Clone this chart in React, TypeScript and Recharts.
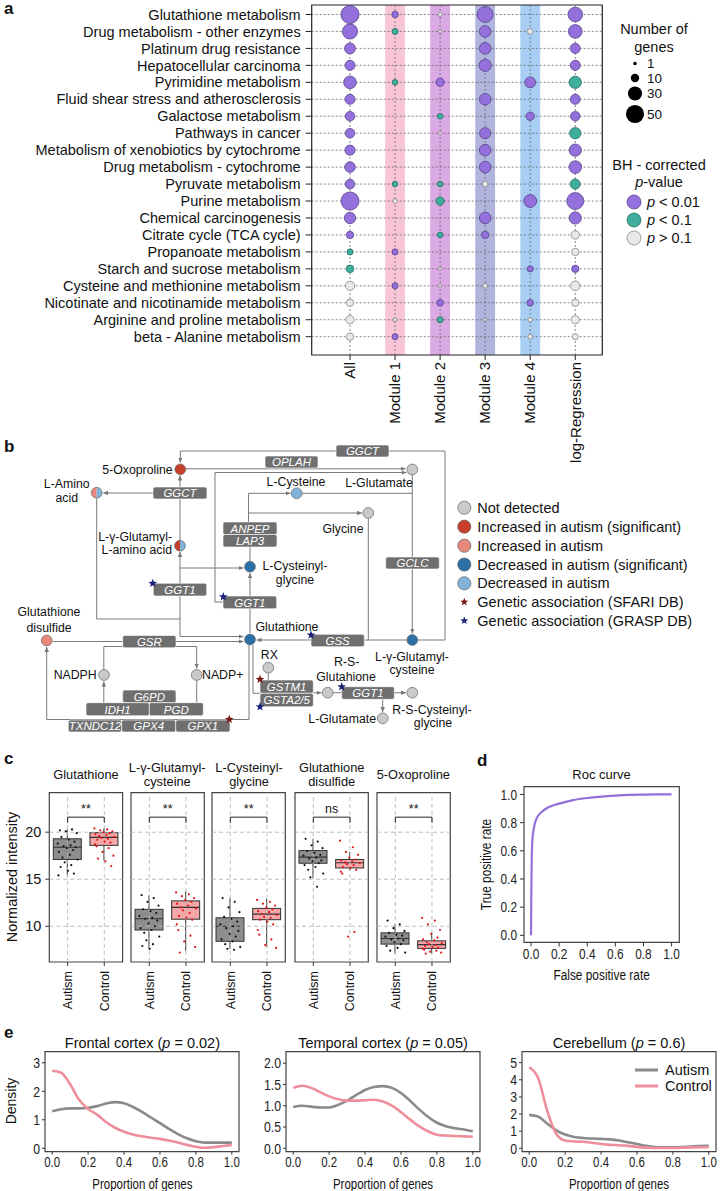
import React from 'react';
import {
  ScatterChart, Scatter, XAxis, YAxis, ZAxis, ReferenceArea, ReferenceLine,
  ComposedChart, Bar, LineChart, Line,
} from 'recharts';

const FONT = '"Liberation Sans", Arial, Helvetica, sans-serif';
const NARROW_SCALE = 0.82;

// ---------------- Panel a data ----------------
const PATHWAYS = [
  'Glutathione metabolism', 'Drug metabolism - other enzymes', 'Platinum drug resistance',
  'Hepatocellular carcinoma', 'Pyrimidine metabolism', 'Fluid shear stress and atherosclerosis',
  'Galactose metabolism', 'Pathways in cancer', 'Metabolism of xenobiotics by cytochrome',
  'Drug metabolism - cytochrome', 'Pyruvate metabolism', 'Purine metabolism',
  'Chemical carcinogenesis', 'Citrate cycle (TCA cycle)', 'Propanoate metabolism',
  'Starch and sucrose metabolism', 'Cysteine and methionine metabolism',
  'Nicotinate and nicotinamide metabolism', 'Arginine and proline metabolism', 'beta - Alanine metabolism',
];
const GROUPS = ['All', 'Module 1', 'Module 2', 'Module 3', 'Module 4', 'log-Regression'];
// number of genes (0 = not shown) and significance class (1: p<0.01, 2: p<0.1, 3: p>0.1)
const GENES_ALL = [60, 42, 21, 18, 29, 18, 16, 16, 18, 20, 16, 60, 23, 9, 6, 10, 15, 9, 12, 9];
const SIG_ALL = [1, 1, 1, 1, 1, 1, 1, 1, 1, 1, 1, 1, 1, 1, 2, 2, 3, 3, 3, 3];
const GENES_M1 = [7, 6, 0, 0, 5, 0, 0, 0, 0, 0, 5, 3, 0, 0, 6, 0, 6, 0, 2, 6];
const SIG_M1 = [1, 2, 0, 0, 2, 0, 0, 0, 0, 0, 2, 3, 0, 0, 1, 0, 1, 0, 3, 1];
const GENES_M2 = [2, 1, 0, 0, 12, 0, 5, 1, 0, 0, 5, 12, 0, 5, 0, 1, 1, 7, 6, 0];
const SIG_M2 = [3, 3, 0, 0, 1, 0, 2, 3, 0, 0, 2, 2, 0, 2, 0, 3, 3, 1, 2, 0];
const GENES_M3 = [46, 24, 24, 27, 0, 24, 0, 22, 24, 24, 5, 0, 24, 9, 0, 0, 3, 0, 1, 0];
const SIG_M3 = [1, 1, 1, 1, 0, 1, 0, 1, 1, 1, 3, 0, 1, 1, 0, 0, 3, 0, 3, 0];
const GENES_M4 = [0, 5, 0, 0, 21, 0, 12, 0, 0, 0, 0, 30, 0, 0, 0, 6, 0, 7, 3, 3];
const SIG_M4 = [0, 3, 0, 0, 1, 0, 1, 0, 0, 0, 0, 1, 0, 0, 0, 1, 0, 1, 3, 3];
const GENES_LR = [39, 34, 18, 18, 27, 18, 16, 23, 27, 29, 18, 53, 27, 12, 9, 9, 16, 9, 11, 6];
const SIG_LR = [1, 1, 1, 1, 2, 1, 1, 2, 1, 1, 2, 1, 1, 3, 3, 1, 3, 3, 3, 3];
const SIZE_LEGEND = [1, 10, 30, 50];
const SIG_LEGEND = ['< 0.01', '< 0.1', '> 0.1'];

const GENE_COLS = [GENES_ALL, GENES_M1, GENES_M2, GENES_M3, GENES_M4, GENES_LR];
const SIG_COLS = [SIG_ALL, SIG_M1, SIG_M2, SIG_M3, SIG_M4, SIG_LR];
const BAND_COLORS = ['', '#f8c5d6', '#dba9e4', '#b1b4dc', '#a8cef3', ''];
const SIG_FILL: any = { 1: '#9370db', 2: '#3fae9c', 3: '#e8e8e8' };
const SIG_STROKE: any = { 1: '#4a3a80', 2: '#1f6258', 3: '#7a7a7a' };
const Z_DOMAIN = [-1, 50];
const Z_RANGE = [0, 258];
const A_XDOM = [-0.85, 5.6];
const A_YDOM = [-0.56, 20.08];

function dotsFor(sig: number) {
  const out: any[] = [];
  GENE_COLS.forEach((col, c) => col.forEach((n, r) => {
    if (n > 0 && SIG_COLS[c][r] === sig) out.push({ x: c, y: r, n });
  }));
  return out;
}
const zRadius = (n: number) =>
  Math.sqrt((Z_RANGE[1] * (n - Z_DOMAIN[0])) / (Z_DOMAIN[1] - Z_DOMAIN[0]) / Math.PI);

const makeDot = (fill: string, stroke: string) => (p: any) => {
  const s = typeof p.size === 'number' ? p.size : 30;
  const r = Math.sqrt(Math.max(s, 0) / Math.PI);
  return <circle cx={p.cx} cy={p.cy} r={r} fill={fill} stroke={stroke} strokeWidth={0.7} />;
};

const RotTick = (props: any) => {
  const { x, y, payload, labels, fs } = props;
  return (
    <text x={x} y={y} transform={`rotate(-90 ${x} ${y})`} textAnchor="end" dy="0.35em"
      fontSize={fs} fontFamily={FONT} fill="#111">{labels[payload.value]}</text>
  );
};

// condensed-looking tick (scaled horizontally)
const NarrowTick = (p: any) => {
  const { x, y, payload, fs, fmt, axis } = p;
  const isY = axis === 'y';
  return (
    <g transform={`translate(${x},${y})`}>
      <text transform={`scale(${NARROW_SCALE},1)`} textAnchor={isY ? 'end' : 'middle'} dy={isY ? '0.35em' : '0.72em'}
        fontSize={fs} fontFamily={FONT} fill="#222">{fmt(payload.value)}</text>
    </g>
  );
};

// ---------------- Panel c data ----------------
const C_TITLES = [['Glutathione'], ['L-γ-Glutamyl-', 'cysteine'], ['L-Cysteinyl-', 'glycine'], ['Glutathione', 'disulfide'], ['5-Oxoproline']];
const CLASSES = ['Autism', 'Control'];
// [lower whisker, Q1, median, Q3, upper whisker]
const BOX_AUTISM = [
  [15.4, 17.1, 18.4, 19.3, 20.3],
  [7.6, 9.6, 10.8, 11.8, 13.3],
  [7.6, 8.4, 10.0, 10.9, 13.0],
  [15.1, 16.7, 17.35, 18.05, 19.3],
  [7.1, 8.1, 8.7, 9.3, 10.2],
];
const BOX_CONTROL = [
  [17.0, 18.6, 19.45, 19.95, 20.4],
  [7.4, 10.75, 12.0, 12.7, 13.7],
  [7.8, 10.7, 11.3, 11.9, 12.9],
  [15.9, 16.2, 16.75, 17.1, 17.9],
  [7.1, 7.65, 8.05, 8.45, 9.3],
];
const PTS_AUTISM = [
  [20.2, 20.3, 20.1, 19.9, 19.5, 19.2, 19.0, 18.8, 18.6, 18.5, 18.4, 18.3, 18.1, 17.9, 17.6, 17.3, 17.1, 16.8, 16.5, 16.3, 15.9, 15.6, 15.4],
  [13.3, 13.0, 12.6, 12.2, 11.8, 11.6, 11.4, 11.1, 10.9, 10.8, 10.6, 10.3, 10.0, 9.8, 9.6, 9.3, 8.9, 8.5, 8.1, 7.9, 7.6],
  [13.0, 12.6, 12.0, 11.5, 11.0, 10.8, 10.5, 10.2, 10.0, 9.8, 9.5, 9.2, 8.9, 8.6, 8.4, 8.1, 7.8, 7.6, 7.5],
  [19.3, 19.0, 18.6, 18.3, 18.0, 17.8, 17.6, 17.5, 17.3, 17.2, 17.0, 16.9, 16.7, 16.5, 16.3, 16.0, 15.6, 15.2, 14.2],
  [10.6, 10.2, 9.8, 9.5, 9.3, 9.1, 9.0, 8.9, 8.7, 8.6, 8.5, 8.3, 8.1, 7.9, 7.7, 7.4, 7.2],
];
const PTS_CONTROL = [
  [20.4, 20.3, 20.2, 20.1, 20.0, 19.9, 19.8, 19.7, 19.6, 19.5, 19.4, 19.3, 19.2, 19.0, 18.9, 18.7, 18.5, 18.3, 17.9, 17.5, 17.2, 16.9, 16.4],
  [13.6, 13.4, 13.2, 13.0, 12.8, 12.6, 12.4, 12.2, 12.0, 11.9, 11.7, 11.4, 11.1, 10.9, 10.7, 10.2, 9.6, 9.0, 8.4, 7.8, 7.2],
  [12.8, 12.6, 12.4, 12.2, 12.0, 11.8, 11.6, 11.5, 11.3, 11.2, 11.0, 10.9, 10.7, 10.5, 10.2, 9.6, 9.1, 8.6, 8.0, 7.7],
  [19.1, 18.4, 17.9, 17.6, 17.3, 17.1, 17.0, 16.9, 16.8, 16.7, 16.6, 16.5, 16.3, 16.2, 16.0, 15.8, 15.6, 9.4, 8.9],
  [10.9, 10.6, 10.2, 9.6, 9.2, 8.8, 8.6, 8.5, 8.3, 8.2, 8.1, 8.0, 7.9, 7.8, 7.7, 7.6, 7.5, 7.4, 7.3, 7.2, 7.1],
];
const JITTER = [-0.21, 0.12, -0.05, 0.25, -0.17, 0.03, 0.19, -0.27, 0.08, -0.11, 0.22, -0.02, 0.15, -0.24, 0.06, -0.14, 0.27, -0.08, 0.1, -0.19, 0.01, 0.17, -0.25];
const SIG_MARKS = ['**', '**', '**', 'ns', '**'];
const C_YTICKS = [10, 15, 20];
const C_YDOM = [6.2, 24.2];
const C_LEFTS = [49.3, 130.6, 212.4, 295, 376.7];
const C_W = 73.3;

// ---------------- Panel d data ----------------
const FPR = [0, 0.002, 0.005, 0.01, 0.02, 0.04, 0.07, 0.1, 0.15, 0.2, 0.3, 0.4, 0.5, 0.6, 0.7, 0.8, 0.9, 1];
const TPR = [0, 0.3, 0.55, 0.68, 0.76, 0.83, 0.87, 0.895, 0.92, 0.935, 0.96, 0.975, 0.985, 0.992, 0.997, 0.999, 1, 1];
const UNIT_TICKS = [0, 0.2, 0.4, 0.6, 0.8, 1.0];

// ---------------- Panel e data ----------------
const DENS_X = [0, 0.05, 0.1, 0.15, 0.2, 0.25, 0.3, 0.35, 0.4, 0.45, 0.5, 0.55, 0.6, 0.65, 0.7, 0.75, 0.8, 0.85, 0.9, 0.95, 1.0];
const FRONTAL_AUTISM = [1.30, 1.37, 1.40, 1.40, 1.42, 1.48, 1.57, 1.62, 1.58, 1.45, 1.28, 1.08, 0.88, 0.68, 0.50, 0.35, 0.25, 0.20, 0.20, 0.20, 0.20];
const FRONTAL_CONTROL = [2.72, 2.65, 2.25, 1.70, 1.38, 1.18, 0.92, 0.72, 0.58, 0.48, 0.42, 0.37, 0.33, 0.27, 0.20, 0.12, 0.05, 0.02, 0.04, 0.08, 0.12];
const TEMPORAL_AUTISM = [0.97, 1.00, 0.98, 0.96, 0.96, 1.02, 1.12, 1.25, 1.37, 1.44, 1.46, 1.42, 1.30, 1.12, 0.92, 0.74, 0.60, 0.52, 0.47, 0.44, 0.40];
const TEMPORAL_CONTROL = [1.42, 1.47, 1.42, 1.32, 1.22, 1.15, 1.12, 1.12, 1.13, 1.14, 1.10, 1.00, 0.85, 0.68, 0.52, 0.40, 0.32, 0.30, 0.29, 0.28, 0.27];
const CEREB_AUTISM = [1.95, 1.85, 1.45, 1.05, 0.80, 0.66, 0.60, 0.57, 0.55, 0.52, 0.45, 0.35, 0.25, 0.14, 0.07, 0.05, 0.05, 0.07, 0.10, 0.13, 0.15];
const CEREB_CONTROL = [4.72, 4.10, 2.20, 0.85, 0.45, 0.40, 0.38, 0.32, 0.25, 0.20, 0.18, 0.14, 0.08, 0.04, 0.02, 0.02, 0.02, 0.03, 0.05, 0.06, 0.06];
const E_TITLES = ['Frontal cortex', 'Temporal cortex', 'Cerebellum'];
const E_PVALS = ['0.02', '0.05', '0.6'];
const E_AUTISM = [FRONTAL_AUTISM, TEMPORAL_AUTISM, CEREB_AUTISM];
const E_CONTROL = [FRONTAL_CONTROL, TEMPORAL_CONTROL, CEREB_CONTROL];
const E_YTICKS = [[0, 1, 2, 3], [0, 0.5, 1.0, 1.5, 2.0], [0, 1, 2, 3, 4, 5]];
const E_YDOMS = [[-0.12, 3.39], [-0.08, 2.27], [-0.2, 5.64]];
const E_TICKFMT = [(v: number) => String(v), (v: number) => v.toFixed(1), (v: number) => String(v)];
const E_LEFTS = [45.4, 286, 522];
const E_YW = [40, 40, 40];
const E_W = 194;
const AUTISM_LINE = '#8a8a8a';
const CONTROL_LINE = '#ef8e9b';
const fmt1 = (v: number) => v.toFixed(1);

// ---------------- helpers ----------------
const Txt = ({ x, y, children, anchor = 'middle', fs = 12, weight = 'normal', fill = '#111', rot = false, italic = false }: any) => (
  <text x={x} y={y} dy="0.35em" textAnchor={anchor} fontSize={fs} fontFamily={FONT} fontWeight={weight}
    fontStyle={italic ? 'italic' : 'normal'} fill={fill}
    transform={rot ? `rotate(-90 ${x} ${y})` : undefined}>{children}</text>
);
const NTxt = ({ x, y, children, anchor = 'middle', fs = 13, rot = false }: any) => (
  <g transform={`translate(${x},${y})${rot ? ' rotate(-90)' : ''} scale(${NARROW_SCALE},1)`}>
    <text x={0} y={0} dy="0.35em" textAnchor={anchor} fontSize={fs} fontFamily={FONT} fill="#111">{children}</text>
  </g>
);

function starPath(cx: number, cy: number, R: number) {
  const r = R * 0.42;
  let d = '';
  for (let i = 0; i < 10; i++) {
    const a = -Math.PI / 2 + (i * Math.PI) / 5;
    const rr = i % 2 === 0 ? R : r;
    d += (i === 0 ? 'M' : 'L') + (cx + rr * Math.cos(a)).toFixed(2) + ',' + (cy + rr * Math.sin(a)).toFixed(2);
  }
  return d + 'Z';
}

// ---------------- Panel b diagram layout ----------------
const NODE_COL: any = { gray: '#c9c9c9', incSig: '#c7402d', incLight: '#e8877c', decSig: '#2c70aa', decLight: '#80b2da' };
const B_NODES = [
  { x: 180.3, y: 469.3, k: 'incSig' },
  { x: 412.3, y: 469.5, k: 'gray' },
  { x: 96.7, y: 492.7, k: 'incLight', k2: 'decLight' },
  { x: 296.7, y: 493.3, k: 'decLight' },
  { x: 368.3, y: 513, k: 'gray' },
  { x: 180, y: 545.7, k: 'incSig', k2: 'decLight' },
  { x: 250, y: 566.7, k: 'decSig' },
  { x: 46.7, y: 640.5, k: 'incLight' },
  { x: 250, y: 639.5, k: 'decSig' },
  { x: 412.3, y: 640, k: 'decSig' },
  { x: 104, y: 675, k: 'gray' },
  { x: 196.7, y: 675, k: 'gray' },
  { x: 268.3, y: 667.7, k: 'gray' },
  { x: 327.7, y: 692.7, k: 'gray' },
  { x: 412.3, y: 692.7, k: 'gray' },
  { x: 382.7, y: 718.3, k: 'gray' },
];
const B_BOXES = [
  { x: 336, y: 445, w: 53, h: 12, t: 'GGCT' },
  { x: 265, y: 456, w: 53, h: 12, t: 'OPLAH' },
  { x: 153, y: 487, w: 54, h: 12, t: 'GGCT' },
  { x: 223, y: 522, w: 54, h: 12.5, t: 'ANPEP' },
  { x: 223, y: 534.5, w: 54, h: 12.5, t: 'LAP3' },
  { x: 385.7, y: 557, w: 53.6, h: 12, t: 'GCLC' },
  { x: 153.3, y: 583.3, w: 53.4, h: 12.7, t: 'GGT1' },
  { x: 223, y: 596, w: 53.7, h: 12.7, t: 'GGT1' },
  { x: 122.7, y: 635.5, w: 53.3, h: 12.3, t: 'GSR' },
  { x: 311, y: 634.3, w: 53.3, h: 12.4, t: 'GSS' },
  { x: 122.7, y: 690, w: 53.3, h: 12.7, t: 'G6PD' },
  { x: 86, y: 702.7, w: 63.3, h: 13, t: 'IDH1' },
  { x: 149.3, y: 702.7, w: 54, h: 13, t: 'PGD' },
  { x: 68.3, y: 720, w: 53.4, h: 12, t: 'TXNDC12' },
  { x: 121.7, y: 720, w: 54, h: 12, t: 'GPX4' },
  { x: 175.7, y: 720, w: 54.3, h: 12, t: 'GPX1' },
  { x: 260, y: 680, w: 53.3, h: 13.3, t: 'GSTM1' },
  { x: 260, y: 693.3, w: 53.3, h: 13.4, t: 'GSTA2/5' },
  { x: 341.7, y: 686.7, w: 52.6, h: 12.6, t: 'GGT1' },
];
const B_LINES = [
  { p: [[412.3, 640], [445, 640], [445, 451], [180.3, 451], [180.3, 462.5]], a: true },
  { p: [[186, 468.8], [405.5, 468.8]], a: true },
  { p: [[223, 602], [215, 602], [215, 472.5], [406.5, 472.5]], a: true },
  { p: [[412.3, 475], [412.3, 633.5]], a: true },
  { p: [[302, 493.3], [412.3, 493.3]], a: false },
  { p: [[248.5, 522], [248.5, 493.3], [290.5, 493.3]], a: true },
  { p: [[248.5, 513], [362, 513]], a: true },
  { p: [[368.3, 518.5], [368.3, 640]], a: false },
  { p: [[406.5, 640], [256.5, 640]], a: true },
  { p: [[250, 547], [250, 561]], a: false },
  { p: [[250, 633], [250, 573]], a: true },
  { p: [[180, 568], [243.5, 568]], a: true },
  { p: [[180, 636.5], [180, 552]], a: true },
  { p: [[180, 540], [180, 475.5]], a: true },
  { p: [[180, 493], [103.2, 493]], a: true },
  { p: [[96.7, 498.5], [96.7, 619], [180, 619]], a: false },
  { p: [[180, 636.5], [243.5, 636.5]], a: true },
  { p: [[52.5, 641.5], [243.5, 641.5]], a: true },
  { p: [[122.7, 646.5], [103.8, 646.5], [103.8, 669.5]], a: false },
  { p: [[176, 646.5], [196.7, 646.5], [196.7, 668.5]], a: true },
  { p: [[103.8, 702.7], [103.8, 681.5]], a: true },
  { p: [[196.7, 680.5], [196.7, 702.7]], a: false },
  { p: [[249, 645], [249, 719.5], [46.7, 719.5], [46.7, 647]], a: true },
  { p: [[253, 645], [253, 693.3], [260, 693.3]], a: false },
  { p: [[268.3, 673], [268.3, 680]], a: false },
  { p: [[313.3, 692.7], [321.5, 692.7]], a: true },
  { p: [[333, 692.7], [406, 692.7]], a: true },
  { p: [[382.7, 699.3], [382.7, 712]], a: true },
];
const B_STARS = [
  { x: 152.7, y: 583.3, c: '#1b237a' },
  { x: 223.3, y: 596.7, c: '#1b237a' },
  { x: 311, y: 635, c: '#1b237a' },
  { x: 341.7, y: 686.7, c: '#1b237a' },
  { x: 260, y: 706.7, c: '#1b237a' },
  { x: 260, y: 679.3, c: '#7a1818' },
  { x: 229.3, y: 719.3, c: '#7a1818' },
];
const B_LABELS: any[] = [
  { t: '5-Oxoproline', x: 172.7, y: 469.3, a: 'end' },
  { t: 'L-Amino', x: 66.7, y: 483.3 }, { t: 'acid', x: 66.7, y: 497.3 },
  { t: 'L-Cysteine', x: 296, y: 481.7 },
  { t: 'L-Glutamate', x: 379, y: 482.7 },
  { t: 'Glycine', x: 343, y: 528.3 },
  { t: 'L-γ-Glutamyl-', x: 172, y: 536.7, a: 'end' }, { t: 'L-amino acid', x: 172, y: 550, a: 'end' },
  { t: 'L-Cysteinyl-', x: 295, y: 565.7 }, { t: 'glycine', x: 295, y: 580 },
  { t: 'Glutathione', x: 49, y: 612 }, { t: 'disulfide', x: 49, y: 627.3 },
  { t: 'Glutathione', x: 287, y: 626.5 },
  { t: 'L-γ-Glutamyl-', x: 412, y: 656.7 }, { t: 'cysteine', x: 412, y: 670 },
  { t: 'NADPH', x: 96.7, y: 675, a: 'end' },
  { t: 'NADP+', x: 202, y: 675, a: 'start' },
  { t: 'RX', x: 269.3, y: 655 },
  { t: 'R-S-', x: 346.7, y: 661.7 }, { t: 'Glutahione', x: 346, y: 676.7 },
  { t: 'L-Glutamate', x: 376, y: 718.3, a: 'end' },
  { t: 'R-S-Cysteinyl-', x: 432, y: 710 }, { t: 'glycine', x: 433, y: 722.5 },
];
const B_LEGEND = [
  { t: 'Not detected', k: 'gray' },
  { t: 'Increased in autism (significant)', k: 'incSig' },
  { t: 'Increased in autism', k: 'incLight' },
  { t: 'Decreased in autism (significant)', k: 'decSig' },
  { t: 'Decreased in autism', k: 'decLight' },
  { t: 'Genetic association (SFARI DB)', s: '#7a1818' },
  { t: 'Genetic association (GRASP DB)', s: '#1b237a' },
];

// ---------------- Panel a chart ----------------
function PanelA() {
  const rows = PATHWAYS.map((_, i) => i);
  const cols = GROUPS.map((_, i) => i);
  return (
    <div style={{ position: 'absolute', left: 0, top: 0 }}>
      <ScatterChart width={727} height={465} margin={{ top: 5, right: 124.7, bottom: 0, left: 0 }}>
        {cols.filter((c) => BAND_COLORS[c]).map((c) => (
          <ReferenceArea key={'b' + c} x1={c - 0.22} x2={c + 0.22} y1={A_YDOM[0]} y2={A_YDOM[1]}
            fill={BAND_COLORS[c]} fillOpacity={1} stroke="none" ifOverflow="hidden" />
        ))}
        {rows.map((r) => (
          <ReferenceLine key={'r' + r} y={r} stroke="#6b6b6b" strokeDasharray="2 2" strokeWidth={0.8} />
        ))}
        {cols.map((c) => (
          <ReferenceLine key={'c' + c} x={c} stroke="#6b6b6b" strokeDasharray="2 2" strokeWidth={0.8} />
        ))}
        <XAxis type="number" dataKey="x" domain={A_XDOM} ticks={cols} interval={0} allowDataOverflow
          height={110} tickSize={5} tickMargin={2} axisLine={false} tickLine={{ stroke: '#222' }}
          tick={(p: any) => <RotTick {...p} labels={GROUPS} fs={15} />} />
        <YAxis type="number" dataKey="y" domain={A_YDOM} reversed ticks={rows} interval={0} allowDataOverflow
          width={311.7} tickSize={6} tickMargin={5} axisLine={false} tickLine={{ stroke: '#222' }}
          tick={{ fontSize: 14.5, fill: '#111', fontFamily: FONT }} tickFormatter={(v: number) => PATHWAYS[v]} />
        <ZAxis type="number" dataKey="n" domain={Z_DOMAIN} range={Z_RANGE} />
        {[3, 2, 1].map((s) => (
          <Scatter key={'s' + s} data={dotsFor(s)} shape={makeDot(SIG_FILL[s], SIG_STROKE[s])} isAnimationActive={false} />
        ))}
        <ReferenceArea x1={A_XDOM[0]} x2={A_XDOM[1]} y1={A_YDOM[0]} y2={A_YDOM[1]} fill="none" stroke="#222" strokeWidth={1.2} ifOverflow="visible" />
      </ScatterChart>
    </div>
  );
}

// ---------------- Panel c charts ----------------
const BoxShape = (props: any) => {
  const { x, y, width, height, payload } = props;
  if (!payload) return null;
  const [lo, q1, med, q3, hi] = payload.stats;
  const top = Math.min(y, y + height);
  const h = Math.abs(height);
  const k = h / (hi - lo);
  const py = (v: number) => top + (hi - v) * k;
  const cx = x + width / 2;
  return (
    <g>
      <line x1={cx} x2={cx} y1={py(hi)} y2={py(lo)} stroke="#333" strokeWidth={1} />
      <rect x={x} y={py(q3)} width={width} height={py(q1) - py(q3)} fill={payload.fill} stroke="#333" strokeWidth={1} />
      <line x1={x} x2={x + width} y1={py(med)} y2={py(med)} stroke="#333" strokeWidth={1.2} />
    </g>
  );
};
const tinyDot = (fill: string) => (p: any) => <circle cx={p.cx} cy={p.cy} r={1.1} fill={fill} />;

function BoxPanel({ k }: { k: number }) {
  const showY = k === 0;
  const plotLeft = C_LEFTS[k];
  const yW = showY ? plotLeft : 0;
  const padL = showY ? 0 : 4;
  const divLeft = showY ? 0 : plotLeft - 4;
  const width = yW + padL + C_W + 4;
  const data = [
    { name: 'Autism', range: [BOX_AUTISM[k][0], BOX_AUTISM[k][4]], stats: BOX_AUTISM[k], fill: '#8e8e8e' },
    { name: 'Control', range: [BOX_CONTROL[k][0], BOX_CONTROL[k][4]], stats: BOX_CONTROL[k], fill: '#f6a6a6' },
  ];
  const ptsA = PTS_AUTISM[k].map((v, i) => ({ x: JITTER[i % JITTER.length], y: v }));
  const ptsC = PTS_CONTROL[k].map((v, i) => ({ x: 1 + JITTER[(i + 7) % JITTER.length], y: v }));
  const grid = { stroke: '#b5b5b5', strokeDasharray: '4 3', strokeWidth: 0.9 };
  return (
    <div style={{ position: 'absolute', left: divLeft, top: 780 }}>
      <ComposedChart width={width} height={232} data={data} margin={{ top: 12.7, right: 4, bottom: 0, left: padL }}>
        <XAxis xAxisId="cat" dataKey="name" type="category" orientation="top" height={0} hide />
        <XAxis xAxisId="num" type="number" dataKey="x" domain={[-0.5, 1.5]} ticks={[0, 1]} interval={0} allowDataOverflow
          height={50} tickSize={4} tickMargin={5} axisLine={false} tickLine={{ stroke: '#333' }}
          tick={(p: any) => <RotTick {...p} labels={CLASSES} fs={12.5} />} />
        <YAxis type="number" dataKey="y" domain={C_YDOM} ticks={C_YTICKS} interval={0} allowDataOverflow hide={!showY}
          width={yW} tickSize={4} tickMargin={4} axisLine={false} tickLine={{ stroke: '#333' }}
          tick={{ fontSize: 14.5, fill: '#111', fontFamily: FONT }} />
        {C_YTICKS.map((t) => <ReferenceLine key={'h' + t} xAxisId="num" y={t} {...grid} />)}
        {[0, 1].map((t) => <ReferenceLine key={'v' + t} xAxisId="num" x={t} {...grid} />)}
        <ReferenceLine xAxisId="num" segment={[{ x: 0, y: 21.0 }, { x: 0, y: 21.6 }]} stroke="#222" />
        <ReferenceLine xAxisId="num" segment={[{ x: 1, y: 21.0 }, { x: 1, y: 21.6 }]} stroke="#222" />
        <ReferenceLine xAxisId="num" segment={[{ x: 0, y: 21.6 }, { x: 1, y: 21.6 }]} stroke="#222"
          label={{ value: SIG_MARKS[k], position: 'top', fontSize: 12.5, fill: '#111', fontFamily: FONT, offset: 4 }} />
        <Bar xAxisId="cat" dataKey="range" barSize={28} shape={BoxShape} isAnimationActive={false} />
        <Scatter xAxisId="num" data={ptsA} dataKey="y" shape={tinyDot('#111')} isAnimationActive={false} />
        <Scatter xAxisId="num" data={ptsC} dataKey="y" shape={tinyDot('#e3121b')} isAnimationActive={false} />
        <ReferenceArea xAxisId="num" x1={-0.5} x2={1.5} y1={C_YDOM[0]} y2={C_YDOM[1]} fill="none" stroke="#444" strokeWidth={1.2} ifOverflow="visible" />
      </ComposedChart>
    </div>
  );
}

// ---------------- Panel d chart ----------------
function PanelD() {
  const data = FPR.map((f, i) => ({ fpr: f, tpr: TPR[i] }));
  const dom = [-0.05, 1.055];
  return (
    <div style={{ position: 'absolute', left: 440, top: 760 }}>
      <LineChart width={287} height={230} data={data} margin={{ top: 26.7, right: 47.7, bottom: 17.6, left: 40 }}>
        <XAxis type="number" dataKey="fpr" domain={dom} ticks={UNIT_TICKS} interval={0} allowDataOverflow height={30}
          tickSize={4} tickMargin={2} axisLine={false} tickLine={{ stroke: '#333' }}
          tick={(p: any) => <NarrowTick {...p} fs={14.5} fmt={fmt1} axis="x" />} />
        <YAxis type="number" domain={dom} ticks={UNIT_TICKS} interval={0} allowDataOverflow width={44}
          tickSize={4} tickMargin={3} axisLine={false} tickLine={{ stroke: '#333' }}
          tick={(p: any) => <NarrowTick {...p} fs={14.5} fmt={fmt1} axis="y" />} />
        <Line type="monotone" dataKey="tpr" stroke="#9370db" strokeWidth={2.2} dot={false} isAnimationActive={false} />
        <ReferenceArea x1={dom[0]} x2={dom[1]} y1={dom[0]} y2={dom[1]} fill="none" stroke="#444" strokeWidth={1.2} ifOverflow="visible" />
      </LineChart>
    </div>
  );
}

// ---------------- Panel e charts ----------------
function DensPanel({ k }: { k: number }) {
  const data = DENS_X.map((x, i) => ({ x, autism: E_AUTISM[k][i], control: E_CONTROL[k][i] }));
  const yW = E_YW[k];
  const xdom = [-0.04, 1.04];
  const ydom = E_YDOMS[k];
  return (
    <div style={{ position: 'absolute', left: E_LEFTS[k] - yW, top: 1040 }}>
      <LineChart width={yW + E_W + 5} height={136} data={data} margin={{ top: 11.7, right: 5, bottom: 0.3, left: 0 }}>
        <XAxis type="number" dataKey="x" domain={xdom} ticks={UNIT_TICKS} interval={0} allowDataOverflow height={24}
          tickSize={3} tickMargin={2} axisLine={false} tickLine={{ stroke: '#333' }}
          tick={(p: any) => <NarrowTick {...p} fs={14} fmt={fmt1} axis="x" />} />
        <YAxis type="number" domain={ydom} ticks={E_YTICKS[k]} interval={0} allowDataOverflow width={yW}
          tickSize={3} tickMargin={2} axisLine={false} tickLine={{ stroke: '#333' }}
          tick={(p: any) => <NarrowTick {...p} fs={15} fmt={E_TICKFMT[k]} axis="y" />} />
        <Line type="monotone" dataKey="autism" stroke={AUTISM_LINE} strokeWidth={2.6} dot={false} isAnimationActive={false} />
        <Line type="monotone" dataKey="control" stroke={CONTROL_LINE} strokeWidth={2.6} dot={false} isAnimationActive={false} />
        <ReferenceArea x1={xdom[0]} x2={xdom[1]} y1={ydom[0]} y2={ydom[1]} fill="none" stroke="#444" strokeWidth={1.2} ifOverflow="visible" />
      </LineChart>
    </div>
  );
}

// ---------------- Overlay (texts, legends, diagram) ----------------
function Overlay() {
  const BOXF = 11.5;
  const sizeYs = [63.5, 78, 93.5, 114];
  return (
    <svg width={727} height={1191} style={{ position: 'absolute', left: 0, top: 0, pointerEvents: 'none' }}>
      <defs>
        <marker id="arr" markerWidth="6" markerHeight="6" refX="5" refY="2.25" orient="auto" markerUnits="userSpaceOnUse">
          <path d="M0,0 L5,2.25 L0,4.5 z" fill="#777" />
        </marker>
      </defs>
      {/* panel labels */}
      <Txt x={4} y={8} anchor="start" fs={17} weight="bold">a</Txt>
      <Txt x={4} y={446} anchor="start" fs={17} weight="bold">b</Txt>
      <Txt x={4} y={758} anchor="start" fs={17} weight="bold">c</Txt>
      <Txt x={477} y={760} anchor="start" fs={17} weight="bold">d</Txt>
      <Txt x={4} y={1032} anchor="start" fs={17} weight="bold">e</Txt>

      {/* panel a legend */}
      <Txt x={654} y={29} fs={14.5}>Number of</Txt>
      <Txt x={654} y={47} fs={14.5}>genes</Txt>
      {SIZE_LEGEND.map((n, i) => (
        <g key={'sl' + n}>
          <circle cx={635} cy={sizeYs[i]} r={zRadius(n)} fill="#000" />
          <Txt x={647} y={sizeYs[i]} anchor="start" fs={13.5}>{n}</Txt>
        </g>
      ))}
      <Txt x={659} y={165} fs={14.5}>BH - corrected</Txt>
      <text x={659} y={182} dy="0.35em" textAnchor="middle" fontSize={14.5} fontFamily={FONT} fill="#111">
        <tspan fontStyle="italic">p</tspan>-value
      </text>
      {SIG_LEGEND.map((s, i) => (
        <g key={'pl' + i}>
          <circle cx={634} cy={202 + i * 18} r={7} fill={SIG_FILL[i + 1]} stroke={SIG_STROKE[i + 1]} strokeWidth={0.7} />
          <text x={647} y={202 + i * 18} dy="0.35em" fontSize={14.5} fontFamily={FONT} fill="#111">
            <tspan fontStyle="italic">p</tspan> {s}
          </text>
        </g>
      ))}

      {/* panel b diagram */}
      {B_LINES.map((l, i) => (
        <polyline key={'bl' + i} points={l.p.map((q) => q.join(',')).join(' ')} fill="none" stroke="#7a7a7a"
          strokeWidth={1} markerEnd={l.a ? 'url(#arr)' : undefined} />
      ))}
      {B_BOXES.map((b, i) => (
        <g key={'bb' + i}>
          <rect x={b.x} y={b.y} width={b.w} height={b.h} rx={2} fill="#6f6f6f" stroke="#ffffff" strokeWidth={0.6} />
          <Txt x={b.x + b.w / 2} y={b.y + b.h / 2 + 0.3} fs={BOXF} fill="#ffffff" italic>{b.t}</Txt>
        </g>
      ))}
      {B_NODES.map((n: any, i) => {
        const r = 5.4;
        if (n.k2) {
          return (
            <g key={'bn' + i}>
              <path d={`M${n.x},${n.y - r} A${r},${r} 0 0 0 ${n.x},${n.y + r} Z`} fill={NODE_COL[n.k]} />
              <path d={`M${n.x},${n.y - r} A${r},${r} 0 0 1 ${n.x},${n.y + r} Z`} fill={NODE_COL[n.k2]} />
              <circle cx={n.x} cy={n.y} r={r} fill="none" stroke="#666" strokeWidth={0.7} />
            </g>
          );
        }
        return <circle key={'bn' + i} cx={n.x} cy={n.y} r={r} fill={NODE_COL[n.k]} stroke="#666" strokeWidth={0.7} />;
      })}
      {B_STARS.map((s, i) => <path key={'bs' + i} d={starPath(s.x, s.y, 4.6)} fill={s.c} />)}
      {B_LABELS.map((l, i) => (
        <Txt key={'bt' + i} x={l.x} y={l.y} anchor={l.a || 'middle'} fs={12.3}>{l.t}</Txt>
      ))}
      {B_LEGEND.map((l: any, i) => {
        const ys = [507.7, 526.7, 545.7, 564.5, 583.3, 602, 620.7];
        return (
          <g key={'bg' + i}>
            {l.s ? <path d={starPath(464.3, ys[i], 4.2)} fill={l.s} />
              : <circle cx={464.3} cy={ys[i]} r={6.6} fill={NODE_COL[l.k]} stroke="#666" strokeWidth={0.7} />}
            <Txt x={477.3} y={ys[i]} anchor="start" fs={14.5}>{l.t}</Txt>
          </g>
        );
      })}

      {/* panel c titles */}
      {C_TITLES.map((t, k) => {
        const cx = C_LEFTS[k] + C_W / 2;
        return t.length === 1
          ? <Txt key={'ct' + k} x={cx} y={774.3} fs={12.8}>{t[0]}</Txt>
          : (
            <g key={'ct' + k}>
              <Txt x={cx} y={767.8} fs={12.8}>{t[0]}</Txt>
              <Txt x={cx} y={781.6} fs={12.8}>{t[1]}</Txt>
            </g>
          );
      })}
      <Txt x={12} y={877} fs={14.5} rot>Normalized intensity</Txt>

      {/* panel d labels */}
      <Txt x={601.6} y={774.3} fs={13}>Roc curve</Txt>
      <NTxt x={486} y={864.5} fs={14.5} rot>True positive rate</NTxt>
      <NTxt x={601.6} y={975} fs={14.5}>False positive rate</NTxt>

      {/* panel e labels */}
      {E_TITLES.map((t, k) => (
        <text key={'et' + k} x={E_LEFTS[k] + E_W / 2} y={1043.3} dy="0.35em" textAnchor="middle" fontSize={14.5} fontFamily={FONT} fill="#111">
          {t} (<tspan fontStyle="italic">p</tspan> = {E_PVALS[k]})
        </text>
      ))}
      {E_TITLES.map((t, k) => (
        <NTxt key={'ex' + k} x={E_LEFTS[k] + E_W / 2} y={1184} fs={14}>Proportion of genes</NTxt>
      ))}
      <Txt x={11} y={1101} fs={14} rot>Density</Txt>
      <line x1={635} x2={658} y1={1070} y2={1070} stroke={AUTISM_LINE} strokeWidth={3} />
      <line x1={635} x2={658} y1={1086} y2={1086} stroke={CONTROL_LINE} strokeWidth={3} />
      <Txt x={665} y={1070} anchor="start" fs={14.5}>Autism</Txt>
      <Txt x={665} y={1086} anchor="start" fs={14.5}>Control</Txt>
    </svg>
  );
}

export default function App() {
  return (
    <div style={{ position: 'absolute', left: 0, top: 0, width: 727, height: 1191, background: '#fff', fontFamily: FONT, overflow: 'hidden' }}>
      <PanelA />
      {C_LEFTS.map((_, k) => <BoxPanel key={'c' + k} k={k} />)}
      <PanelD />
      {E_TITLES.map((_, k) => <DensPanel key={'e' + k} k={k} />)}
      <Overlay />
    </div>
  );
}
